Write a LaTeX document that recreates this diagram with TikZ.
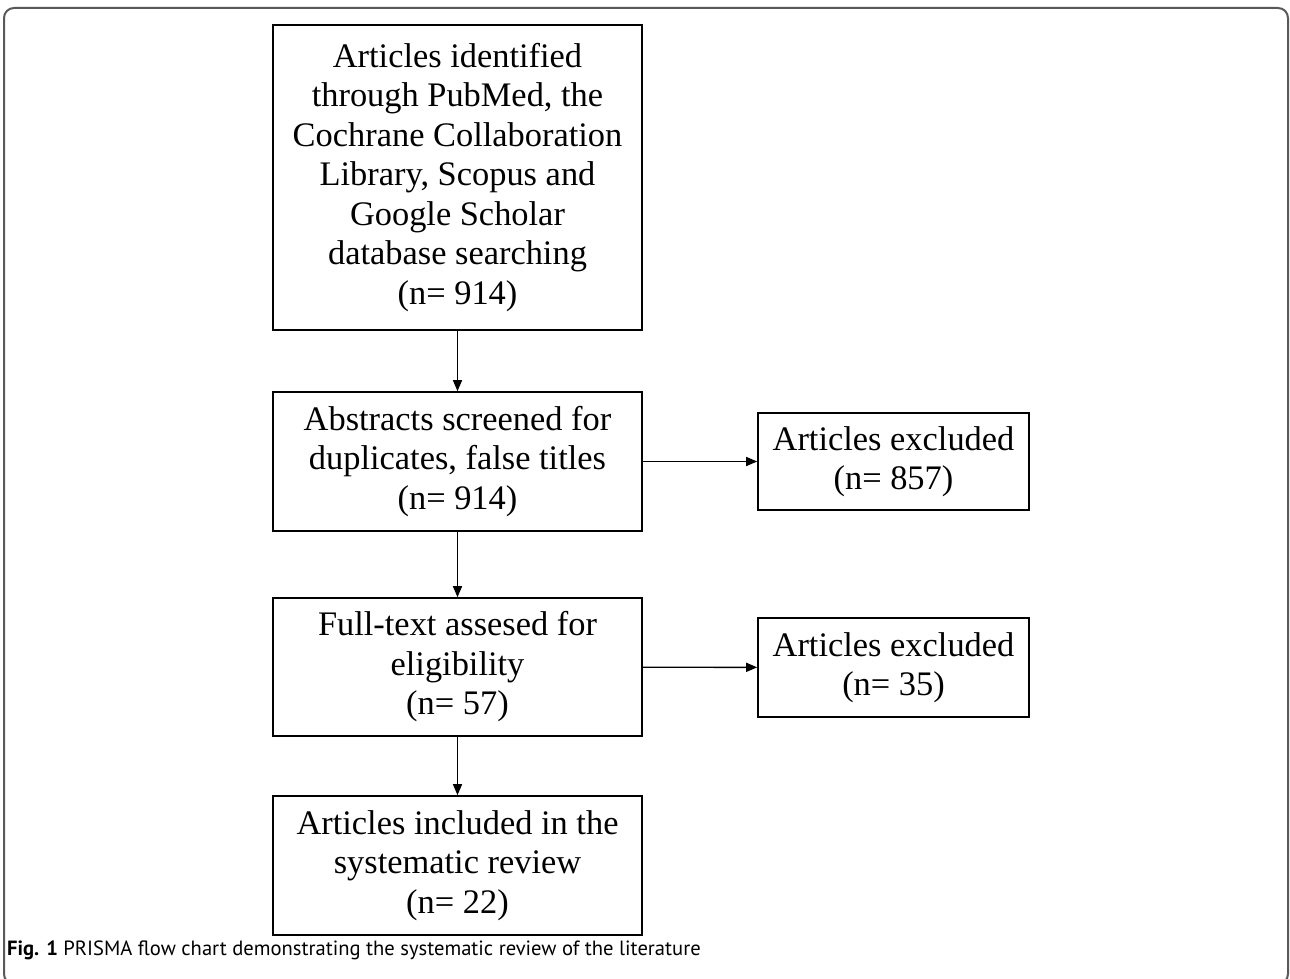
\documentclass[tikz,border=0pt]{standalone}
\usepackage{fontspec}
\setmainfont{Liberation Serif}
\newfontfamily\capfont{PT Sans}
\usetikzlibrary{arrows.meta}

\begin{document}
\begin{tikzpicture}[x=1pt,y=-1pt,>={Triangle[length=11pt,width=9pt]},
  box/.style={draw,line width=1.6pt,align=center,inner sep=0pt,
    font=\fontsize{34.4}{39.5}\selectfont},
  mainbox/.style={box,minimum width=369pt},
  sidebox/.style={box,minimum width=271pt}]
  \pgfmathsetmacro{\cx}{457.5}
  \pgfmathsetmacro{\rx}{893.5}
  \useasboundingbox (0,0) rectangle (1290,979);
  \draw[rounded corners=10pt,line width=2pt,black!65] (4,8) rectangle (1288,984);

  \node[mainbox,minimum height=305pt] (ident) at (\cx,177.5)
    {Articles identified\\ through PubMed, the\\ Cochrane Collaboration\\
     Library, Scopus and\\ Google Scholar\\ database searching\\ (n= 914)};
  \node[mainbox,minimum height=139pt] (screen) at (\cx,461.5)
    {Abstracts screened for\\ duplicates, false titles\\ (n= 914)};
  \node[sidebox,minimum height=97pt] (exclA) at (\rx,461.5)
    {Articles excluded\\ (n= 857)};
  \node[mainbox,minimum height=138pt] (full) at (\cx,667)
    {Full-text assesed for\\ eligibility\\ (n= 57)};
  \node[sidebox,minimum height=99pt] (exclB) at (\rx,667.5)
    {Articles excluded\\ (n= 35)};
  \node[mainbox,minimum height=139pt] (incl) at (\cx,865.5)
    {Articles included in the\\ systematic review\\ (n= 22)};

  \draw[->,line width=1.4pt] (ident) -- (screen);
  \draw[->,line width=1.4pt] (screen) -- (full);
  \draw[->,line width=1.4pt] (full) -- (incl);
  \draw[->,line width=1.4pt] (screen) -- (exclA);
  \draw[->,line width=1.4pt] (full) -- (exclB);

  \node[anchor=base west,inner sep=0pt,font=\capfont\fontsize{20.6}{24}\selectfont] (cap) at (7,955)
    {\textbf{Fig. 1} PRISMA flow chart demonstrating the systematic review of the literature};
\end{tikzpicture}
\end{document}
